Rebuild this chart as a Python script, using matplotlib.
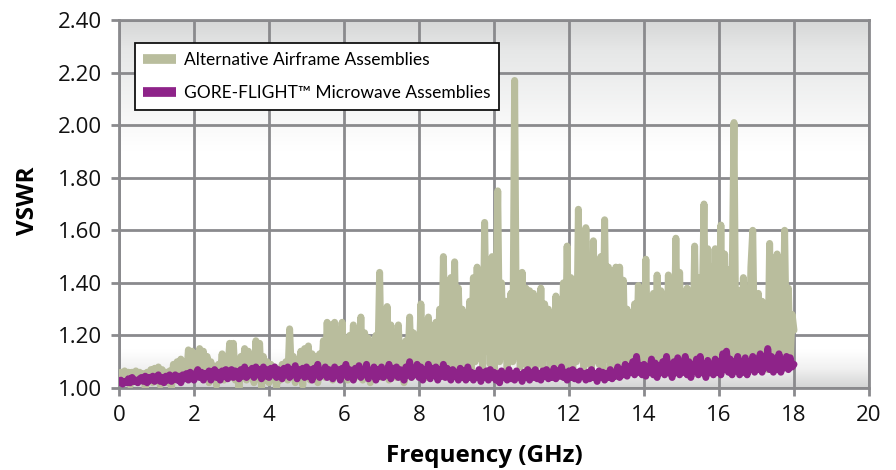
import numpy as np
import matplotlib
matplotlib.use("Agg")
import matplotlib.pyplot as plt
from matplotlib.colors import LinearSegmentedColormap

# Frequency grid (GHz), 0.05 GHz step
freq = [round(i * 0.05, 2) for i in range(361)]

alt_vswr = [
    1.03, 1.06, 1.02, 1.065, 1.04, 1.06, 1.01, 1.06, 1.03, 1.065,
    1.02, 1.06, 1.04, 1.055, 1.00, 1.06, 1.03, 1.07, 1.02, 1.075,
    1.03, 1.08, 1.01, 1.07, 1.04, 1.06, 1.02, 1.065, 1.00, 1.09,
    1.04, 1.10, 1.03, 1.11, 1.06, 1.10, 1.04, 1.145, 1.07, 1.14,
    1.05, 1.13, 1.08, 1.15, 1.04, 1.14, 1.06, 1.12, 1.02, 1.10,
    1.04, 1.08, 1.01, 1.09, 1.05, 1.13, 1.03, 1.12, 1.06, 1.17,
    1.04, 1.17, 1.03, 1.10, 1.00, 1.12, 1.05, 1.15, 1.03, 1.14,
    1.06, 1.10, 1.02, 1.18, 1.05, 1.17, 1.00, 1.12, 1.03, 1.10,
    1.02, 1.09, 1.04, 1.08, 1.00, 1.07, 1.03, 1.09, 1.05, 1.10,
    1.03, 1.225, 1.05, 1.12, 1.02, 1.10, 1.04, 1.14, 1.01, 1.15,
    1.05, 1.16, 1.03, 1.13, 1.06, 1.12, 1.02, 1.13, 1.05, 1.18,
    1.04, 1.25, 1.08, 1.24, 1.03, 1.25, 1.07, 1.22, 1.04, 1.25,
    1.06, 1.18, 1.03, 1.20, 1.08, 1.24, 1.04, 1.17, 1.06, 1.27,
    1.03, 1.21, 1.07, 1.19, 1.02, 1.16, 1.05, 1.20, 1.08, 1.44,
    1.04, 1.26, 1.06, 1.31, 1.03, 1.24, 1.08, 1.20, 1.04, 1.24,
    1.06, 1.16, 1.02, 1.18, 1.07, 1.27, 1.04, 1.21, 1.08, 1.19,
    1.05, 1.32, 1.09, 1.18, 1.04, 1.27, 1.10, 1.22, 1.06, 1.25,
    1.08, 1.30, 1.05, 1.50, 1.12, 1.35, 1.07, 1.42, 1.10, 1.48,
    1.06, 1.38, 1.12, 1.30, 1.08, 1.28, 1.14, 1.33, 1.07, 1.42,
    1.10, 1.46, 1.12, 1.38, 1.06, 1.63, 1.14, 1.43, 1.09, 1.50,
    1.05, 1.30, 1.75, 1.10, 1.40, 1.12, 1.33, 1.07, 1.30, 1.36,
    1.10, 2.17, 1.12, 1.43, 1.08, 1.44, 1.13, 1.38, 1.06, 1.37,
    1.10, 1.36, 1.05, 1.33, 1.12, 1.38, 1.08, 1.32, 1.14, 1.30,
    1.07, 1.27, 1.12, 1.35, 1.06, 1.24, 1.10, 1.40, 1.08, 1.54,
    1.12, 1.42, 1.07, 1.36, 1.10, 1.68, 1.14, 1.45, 1.08, 1.61,
    1.12, 1.42, 1.07, 1.56, 1.13, 1.36, 1.09, 1.50, 1.06, 1.64,
    1.11, 1.46, 1.06, 1.40, 1.13, 1.46, 1.08, 1.46, 1.12, 1.41,
    1.06, 1.30, 1.10, 1.26, 1.07, 1.32, 1.12, 1.39, 1.08, 1.34,
    1.12, 1.49, 1.07, 1.29, 1.13, 1.36, 1.08, 1.43, 1.12, 1.37,
    1.06, 1.34, 1.11, 1.43, 1.08, 1.36, 1.13, 1.57, 1.09, 1.44,
    1.12, 1.31, 1.07, 1.38, 1.12, 1.29, 1.08, 1.54, 1.13, 1.42,
    1.07, 1.29, 1.70, 1.12, 1.53, 1.08, 1.46, 1.11, 1.53, 1.08,
    1.12, 1.62, 1.08, 1.51, 1.13, 1.45, 1.07, 1.40, 2.01, 1.12,
    1.08, 1.37, 1.13, 1.42, 1.07, 1.33, 1.12, 1.46, 1.60, 1.09,
    1.13, 1.36, 1.08, 1.33, 1.12, 1.28, 1.07, 1.55, 1.11, 1.42,
    1.08, 1.51, 1.12, 1.35, 1.09, 1.60, 1.13, 1.38, 1.10, 1.28,
    1.22,
]

gore_vswr = [
    1.02, 1.03, 1.015, 1.025, 1.02, 1.035, 1.02, 1.04, 1.025, 1.03,
    1.02, 1.035, 1.04, 1.025, 1.045, 1.02, 1.04, 1.03, 1.045, 1.025,
    1.04, 1.05, 1.025, 1.04, 1.02, 1.045, 1.03, 1.05, 1.025, 1.04,
    1.05, 1.03, 1.045, 1.02, 1.05, 1.035, 1.055, 1.03, 1.06, 1.04,
    1.03, 1.055, 1.07, 1.04, 1.06, 1.03, 1.055, 1.045, 1.065, 1.03,
    1.05, 1.07, 1.04, 1.06, 1.03, 1.065, 1.045, 1.07, 1.035, 1.06,
    1.07, 1.04, 1.065, 1.05, 1.035, 1.07, 1.045, 1.08, 1.04, 1.065,
    1.05, 1.075, 1.04, 1.08, 1.05, 1.07, 1.035, 1.08, 1.045, 1.07,
    1.04, 1.075, 1.05, 1.08, 1.04, 1.07, 1.055, 1.035, 1.075, 1.05,
    1.08, 1.04, 1.07, 1.05, 1.085, 1.035, 1.07, 1.05, 1.075, 1.04,
    1.08, 1.045, 1.07, 1.03, 1.075, 1.05, 1.09, 1.04, 1.065, 1.05,
    1.08, 1.04, 1.07, 1.055, 1.035, 1.08, 1.05, 1.07, 1.03, 1.075,
    1.05, 1.09, 1.04, 1.07, 1.055, 1.03, 1.075, 1.05, 1.085, 1.04,
    1.07, 1.05, 1.09, 1.035, 1.065, 1.05, 1.08, 1.03, 1.07, 1.045,
    1.08, 1.04, 1.065, 1.05, 1.09, 1.035, 1.075, 1.05, 1.08, 1.04,
    1.07, 1.05, 1.03, 1.08, 1.05, 1.10, 1.04, 1.07, 1.05, 1.09,
    1.04, 1.08, 1.03, 1.07, 1.05, 1.09, 1.035, 1.075, 1.05, 1.08,
    1.03, 1.07, 1.045, 1.09, 1.04, 1.075, 1.05, 1.03, 1.07, 1.045,
    1.06, 1.03, 1.075, 1.04, 1.065, 1.03, 1.08, 1.04, 1.06, 1.03,
    1.055, 1.04, 1.07, 1.025, 1.06, 1.04, 1.065, 1.03, 1.07, 1.04,
    1.06, 1.03, 1.055, 1.02, 1.065, 1.04, 1.05, 1.03, 1.07, 1.035,
    1.055, 1.03, 1.065, 1.04, 1.05, 1.025, 1.06, 1.04, 1.07, 1.03,
    1.06, 1.04, 1.07, 1.035, 1.055, 1.03, 1.065, 1.045, 1.07, 1.035,
    1.06, 1.04, 1.075, 1.035, 1.065, 1.045, 1.08, 1.04, 1.06, 1.03,
    1.065, 1.04, 1.07, 1.035, 1.06, 1.03, 1.065, 1.045, 1.055, 1.03,
    1.06, 1.035, 1.07, 1.04, 1.055, 1.025, 1.065, 1.04, 1.06, 1.03,
    1.055, 1.04, 1.07, 1.035, 1.06, 1.045, 1.08, 1.04, 1.07, 1.05,
    1.09, 1.045, 1.08, 1.06, 1.10, 1.05, 1.12, 1.06, 1.085, 1.05,
    1.09, 1.045, 1.08, 1.06, 1.11, 1.05, 1.095, 1.04, 1.085, 1.06,
    1.10, 1.05, 1.12, 1.06, 1.09, 1.04, 1.10, 1.06, 1.115, 1.05,
    1.09, 1.06, 1.12, 1.05, 1.10, 1.04, 1.09, 1.065, 1.11, 1.05,
    1.12, 1.06, 1.09, 1.04, 1.105, 1.06, 1.09, 1.05, 1.11, 1.06,
    1.10, 1.05, 1.13, 1.07, 1.14, 1.06, 1.11, 1.05, 1.10, 1.07,
    1.12, 1.05, 1.10, 1.06, 1.115, 1.05, 1.09, 1.07, 1.12, 1.06,
    1.11, 1.07, 1.13, 1.06, 1.12, 1.08, 1.15, 1.07, 1.12, 1.06,
    1.11, 1.07, 1.13, 1.06, 1.10, 1.08, 1.12, 1.07, 1.115, 1.08,
    1.09,
]

x_ticks = [0, 2, 4, 6, 8, 10, 12, 14, 16, 18, 20]
y_ticks = [1.00, 1.20, 1.40, 1.60, 1.80, 2.00, 2.20, 2.40]
series_names = ["Alternative Airframe Assemblies",
                "GORE-FLIGHT\u2122 Microwave Assemblies"]

GREEN = "#b9bd9d"
PURPLE = "#8e2389"
GRID = "#8a8a8d"

plt.rcParams["font.family"] = ["Lato", "DejaVu Sans"]
plt.rcParams["path.simplify"] = False

fig = plt.figure(figsize=(8.96, 4.70), dpi=100)
ax = fig.add_axes([119 / 896, 1 - 388 / 470, (869 - 119) / 896, (388 - 20) / 470])

# background gradient
cmap = LinearSegmentedColormap.from_list(
    "bg", [(0.0, "#d6d7d7"), (0.08, "#e6e7e7"), (0.35, "#ffffff"),
           (0.90, "#ffffff"), (0.95, "#f0f0f0"), (1.0, "#d4d5d5")])
grad = np.linspace(0, 1, 256).reshape(-1, 1)
ax.imshow(grad, aspect="auto", cmap=cmap, extent=[0, 20, 1.0, 2.4],
          origin="upper", zorder=0, interpolation="bicubic")

ax.set_xlim(0, 20)
ax.set_ylim(1.0, 2.4)
ax.set_xticks(x_ticks)
ax.set_yticks(y_ticks)
ax.set_xticklabels([str(t) for t in x_ticks])
ax.set_yticklabels([f"{t:.2f}" for t in y_ticks])

ax.grid(True, color=GRID, linewidth=2.0, zorder=1)
ax.set_axisbelow(True)
for s in ax.spines.values():
    s.set_color(GRID)
    s.set_linewidth(2.0)
ax.tick_params(axis="both", colors=GRID, width=2.0, length=6,
               labelsize=16, labelcolor="#111111", pad=6)
for lab in ax.get_xticklabels() + ax.get_yticklabels():
    lab.set_family(["Open Sans", "DejaVu Sans"])

ax.plot(freq, alt_vswr, color=GREEN, linewidth=5.0, solid_joinstyle="round",
        solid_capstyle="round", zorder=3, label=series_names[0])
ax.plot(freq, gore_vswr, color=PURPLE, linewidth=5.0, solid_joinstyle="round",
        solid_capstyle="round", zorder=4, label=series_names[1])

ax.set_xlabel("Frequency (GHz)", fontsize=17.5, fontweight="bold",
              family=["Open Sans", "DejaVu Sans"])
ax.xaxis.set_label_coords(0.487, -0.152)
ax.set_ylabel("VSWR", fontsize=17.5, fontweight="bold",
              family=["Open Sans", "DejaVu Sans"])
ax.yaxis.set_label_coords(-0.106, 0.51)

leg = ax.legend(loc="upper left", bbox_to_anchor=(0.021, 0.937), fontsize=12.5,
                frameon=True, fancybox=False, edgecolor="#111111",
                framealpha=1.0, handlelength=1.9, handleheight=0.6,
                borderpad=0.5, labelspacing=1.0, handletextpad=0.45,
                borderaxespad=0.0)
leg.get_frame().set_linewidth(1.3)
for h in leg.get_lines():
    h.set_linewidth(7)
    h.set_solid_capstyle("butt")
leg.set_zorder(10)

fig.savefig("out.png", dpi=100)
